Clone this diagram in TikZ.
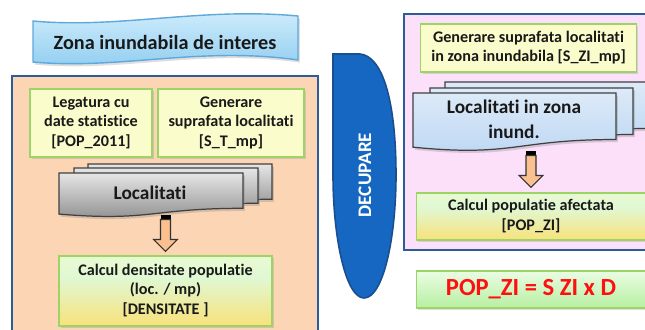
\documentclass[tikz,border=0pt]{standalone}
\usepackage{fontspec}
\setmainfont{Carlito}[Ligatures=NoCommon]
\usetikzlibrary{shadows,calc}

\definecolor{peach}{HTML}{FCD5B5}
\definecolor{pinkbg}{HTML}{FCE0FA}
\definecolor{frameblue}{HTML}{2C5C9A}
\definecolor{paleyellow}{HTML}{FBFCCB}
\definecolor{boxgreen}{HTML}{9CD468}
\definecolor{arroworange}{HTML}{FAC08F}
\definecolor{cutblue}{HTML}{1567C2}
\definecolor{cutborder}{HTML}{1A4F8F}
\definecolor{bannertop}{HTML}{D3EEFC}
\definecolor{bannerbot}{HTML}{8FCDF0}
\definecolor{bannerline}{HTML}{5EA8DC}
\definecolor{doctop}{HTML}{DCEAF8}
\definecolor{docbot}{HTML}{BCD7F3}
\definecolor{calctop}{HTML}{F6FCCB}
\definecolor{calcgrn}{HTML}{E0F8D4}
\definecolor{calcyel}{HTML}{F8E27A}
\definecolor{calcbot}{HTML}{F4BE00}
\definecolor{formtop}{HTML}{EAFDE3}
\definecolor{formbot}{HTML}{B7EFA1}
\definecolor{formred}{HTML}{FF1010}

\pgfdeclareverticalshading{calcshade}{100bp}{color(0bp)=(calcbot); color(25bp)=(calcyel); color(60bp)=(calcgrn); color(100bp)=(calctop)}

\newcommand{\docsheet}[5]{%
\draw[#1] ({#2},{#3}) -- ({#2+#4},{#3}) -- ({#2+#4},{#3-0.802*#5})
  .. controls ({#2+0.5*#4},{#3-0.802*#5}) and ({#2+0.5*#4},{#3-1.107*#5}) .. ({#2},{#3-0.934*#5}) -- cycle;}

\begin{document}
\begin{tikzpicture}[x=0.02cm, y=0.02cm,
  txt/.style={font=\fontsize{9.2}{11}\selectfont\bfseries, text=black!90},
  stepbox/.style={txt, draw=boxgreen, fill=paleyellow, line width=0.6pt, inner sep=0pt,
    drop shadow={shadow xshift=1pt, shadow yshift=-1.2pt, opacity=0.25}},
  calcbox/.style={stepbox, shading=calcshade},
  graydoc/.style={draw=black!75, line width=0.7pt, top color=black!10, bottom color=black!45,
    drop shadow={shadow xshift=1pt, shadow yshift=-1.5pt, opacity=0.3}},
  bluedoc/.style={draw=black!75, line width=0.7pt, top color=doctop, bottom color=docbot,
    drop shadow={shadow xshift=1pt, shadow yshift=-1.5pt, opacity=0.3}},
  fatarrow/.style={draw=black!80, line width=0.6pt, fill=arroworange},
  zone/.style={draw=frameblue, line width=1.4pt}
]
\clip (0,0) rectangle (645,329);

\fill[white] (0,0) rectangle (645,329);

\draw[bannerline, line width=0.8pt, top color=bannertop, bottom color=bannerbot,
  drop shadow={shadow xshift=1pt, shadow yshift=-1.5pt, opacity=0.25}]
  (33,308) .. controls (120,300) and (200,322) .. (298,313) -- (298,269)
  .. controls (200,283) and (120,259) .. (33,267) -- cycle;
\node[font=\fontsize{11.5}{13}\selectfont\bfseries, text=black!90] (zona) at (165,287) {Zona inundabila de interes};

\draw[zone, fill=peach] (12,253) rectangle (318,-10);

\node[stepbox, minimum width=2.44cm, minimum height=1.36cm] (leg) at (91,206) {
\begin{tabular}{c}Legatura cu\\ date statistice\\ {[POP\_2011]}\end{tabular}
};

\node[stepbox, minimum width=2.84cm, minimum height=1.36cm] (gen) at (231,206) {
\begin{tabular}{c}Generare\\ suprafata localitati\\ {[S\_T\_mp]}\end{tabular}
};

\foreach \dx/\dy in {29/9,15/5,0/0}
  \docsheet{graydoc}{59+\dx}{156+\dy}{184}{44};
\node[font=\fontsize{11}{14}\selectfont\bfseries, text=black!90] (loc) at (150,136) {Localitati};

\node[calcbox, minimum width=4.26cm, minimum height=1.4cm] (dens) at (165.5,38) {
\begin{tabular}{c}Calcul densitate populatie\\ (loc. / mp)\\ {[DENSITATE ]}\end{tabular}
};

\draw[cutborder, line width=0.9pt, fill=cutblue]
  (333,275) -- (360,275) .. controls (382,273) and (396,230) .. (396,154)
  .. controls (396,90) and (383,31) .. (364,31)
  .. controls (346,31) and (333,90) .. (333,154) -- cycle;
\node[rotate=90, font=\fontsize{10.9}{12}\selectfont\bfseries, text=white] (decup) at (365,154) {DECUPARE};

\draw[zone, fill=pinkbg] (404,315) rectangle (670,79);

\node[stepbox, minimum width=4.3cm, minimum height=0.96cm] (genzi) at (528.5,281) {
\begin{tabular}{c}Generare suprafata localitati\\ in zona inundabila [S\_ZI\_mp]\end{tabular}
};

\foreach \dx/\dy in {32/11,17/5,0/0}
  \docsheet{bluedoc}{413+\dx}{236+\dy}{203}{58};
\node[font=\fontsize{11}{14.2}\selectfont\bfseries, text=black!90] (loczi) at (514,208) {
\begin{tabular}{c}Localitati in zona\\ inund.\end{tabular}
};

\node[calcbox, minimum width=4.6cm, minimum height=0.94cm] (popc) at (531,112.5) {
\begin{tabular}{c}Calcul populatie afectata\\ {[POP\_ZI]}\end{tabular}
};

\node[stepbox, draw=boxgreen, top color=formtop, bottom color=formbot, minimum width=4.6cm, minimum height=0.74cm,
  font=\fontsize{14}{16}\selectfont\bfseries, text=formred] (formula) at (531,39.5) {POP\_ZI = S ZI x D};

\coordinate (arrL) at ($(dens.north)+(0,40)$);
\coordinate (arrR) at ($(popc.north)+(0,41)$);
\foreach \a in {arrL,arrR} {
  \fill[black] (\a) ++(-5,0) rectangle ++(10,-4);
  \draw[fatarrow] (\a) ++(-5,-4) -- ++(0,-20) -- ++(-7,0) -- ++(12,-12) -- ++(12,12) -- ++(-7,0) -- ++(0,20) -- cycle;
}

\end{tikzpicture}
\end{document}
